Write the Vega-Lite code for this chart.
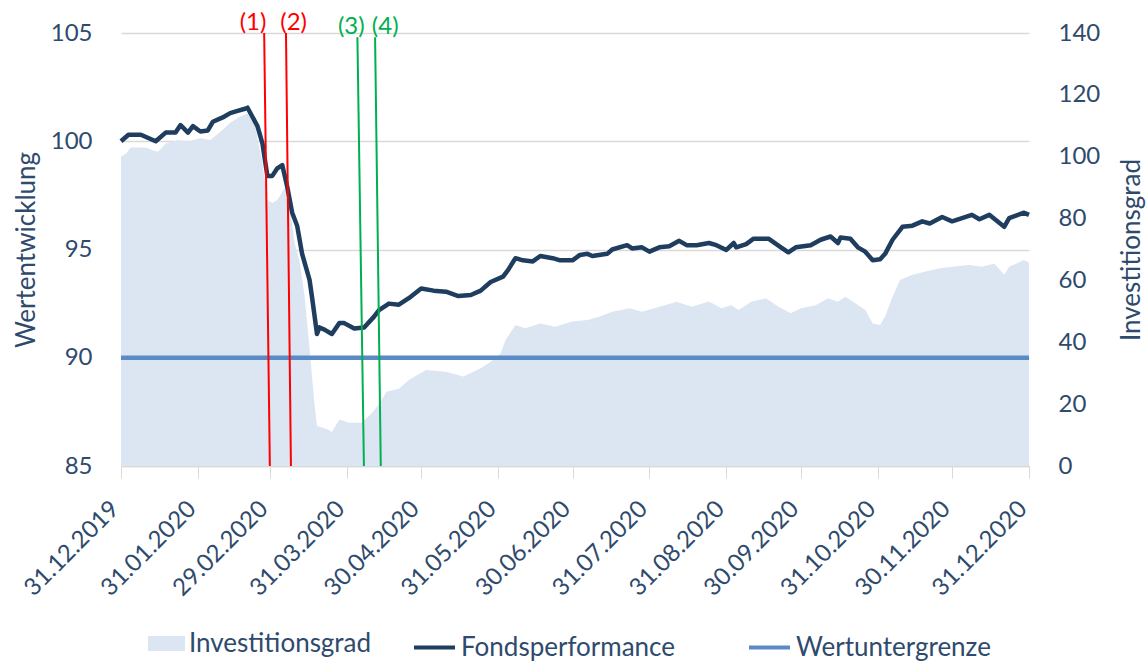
{
  "$schema": "https://vega.github.io/schema/vega-lite/v6.json",
  "width": 908,
  "height": 433,
  "autosize": {"type": "none"},
  "padding": {"left": 121, "top": 33, "right": 118, "bottom": 195},
  "background": "white",
  "config": {
    "font": "Lato",
    "view": {"stroke": null},
    "axis": {"labelFont": "Lato", "titleFont": "Lato", "labelColor": "#2E4A6D", "titleColor": "#2E4A6D", "titleFontWeight": "normal"},
    "axisX": {
      "labelExpr": "utcFormat(datum.value, '%d.%m.%Y')",
      "labelAngle": -45, "labelAlign": "right", "labelBaseline": "middle",
      "labelFontSize": 24, "labelPadding": 27, "labelOffset": -6, "labelOverlap": false, "labelBound": false, "labelFlush": false,
      "domainColor": "#D9D9D9", "domainWidth": 1.5, "tickColor": "#D9D9D9", "tickSize": 12, "grid": false
    },
    "legend": {"labelFont": "Lato", "labelColor": "#2E4A6D", "labelFontSize": 26, "labelLimit": 0, "orient": "none", "direction": "horizontal", "padding": 0, "labelOffset": 4, "title": null}
  },
  "datasets": {
    "perf": [
      {"tag": "2019-12-31", "wert": 100.0}, {"tag": "2020-01-03", "wert": 100.3}, {"tag": "2020-01-08", "wert": 100.3},
      {"tag": "2020-01-14", "wert": 100.0}, {"tag": "2020-01-18", "wert": 100.4}, {"tag": "2020-01-22", "wert": 100.4},
      {"tag": "2020-01-24", "wert": 100.75}, {"tag": "2020-01-27", "wert": 100.4}, {"tag": "2020-01-29", "wert": 100.7},
      {"tag": "2020-02-01", "wert": 100.45}, {"tag": "2020-02-04", "wert": 100.5}, {"tag": "2020-02-06", "wert": 100.9},
      {"tag": "2020-02-10", "wert": 101.1}, {"tag": "2020-02-13", "wert": 101.3}, {"tag": "2020-02-16", "wert": 101.4},
      {"tag": "2020-02-19", "wert": 101.5}, {"tag": "2020-02-20", "wert": 101.55}, {"tag": "2020-02-24", "wert": 100.7},
      {"tag": "2020-02-26", "wert": 99.9}, {"tag": "2020-02-28", "wert": 98.4}, {"tag": "2020-03-01", "wert": 98.4},
      {"tag": "2020-03-03", "wert": 98.75}, {"tag": "2020-03-05", "wert": 98.9}, {"tag": "2020-03-07", "wert": 97.9},
      {"tag": "2020-03-09", "wert": 96.7}, {"tag": "2020-03-11", "wert": 96.1}, {"tag": "2020-03-13", "wert": 94.8},
      {"tag": "2020-03-16", "wert": 93.6}, {"tag": "2020-03-17", "wert": 92.8}, {"tag": "2020-03-19", "wert": 91.1},
      {"tag": "2020-03-20", "wert": 91.4}, {"tag": "2020-03-22", "wert": 91.3}, {"tag": "2020-03-25", "wert": 91.1},
      {"tag": "2020-03-28", "wert": 91.6}, {"tag": "2020-03-30", "wert": 91.6}, {"tag": "2020-04-03", "wert": 91.35},
      {"tag": "2020-04-07", "wert": 91.4}, {"tag": "2020-04-11", "wert": 91.9}, {"tag": "2020-04-13", "wert": 92.2},
      {"tag": "2020-04-17", "wert": 92.5}, {"tag": "2020-04-21", "wert": 92.45}, {"tag": "2020-04-25", "wert": 92.75},
      {"tag": "2020-04-30", "wert": 93.2}, {"tag": "2020-05-05", "wert": 93.1}, {"tag": "2020-05-10", "wert": 93.05},
      {"tag": "2020-05-15", "wert": 92.85}, {"tag": "2020-05-20", "wert": 92.9}, {"tag": "2020-05-24", "wert": 93.1},
      {"tag": "2020-05-28", "wert": 93.5}, {"tag": "2020-06-02", "wert": 93.75}, {"tag": "2020-06-04", "wert": 94.05},
      {"tag": "2020-06-07", "wert": 94.6}, {"tag": "2020-06-10", "wert": 94.5}, {"tag": "2020-06-14", "wert": 94.45},
      {"tag": "2020-06-17", "wert": 94.7}, {"tag": "2020-06-22", "wert": 94.6}, {"tag": "2020-06-25", "wert": 94.5},
      {"tag": "2020-06-30", "wert": 94.5}, {"tag": "2020-07-03", "wert": 94.75}, {"tag": "2020-07-06", "wert": 94.8},
      {"tag": "2020-07-08", "wert": 94.7}, {"tag": "2020-07-14", "wert": 94.8}, {"tag": "2020-07-16", "wert": 95.0},
      {"tag": "2020-07-22", "wert": 95.2}, {"tag": "2020-07-24", "wert": 95.05}, {"tag": "2020-07-28", "wert": 95.1},
      {"tag": "2020-07-31", "wert": 94.9}, {"tag": "2020-08-04", "wert": 95.1}, {"tag": "2020-08-08", "wert": 95.15},
      {"tag": "2020-08-12", "wert": 95.4}, {"tag": "2020-08-15", "wert": 95.2}, {"tag": "2020-08-19", "wert": 95.2},
      {"tag": "2020-08-24", "wert": 95.3}, {"tag": "2020-08-27", "wert": 95.2}, {"tag": "2020-08-31", "wert": 94.98},
      {"tag": "2020-09-03", "wert": 95.3}, {"tag": "2020-09-04", "wert": 95.1}, {"tag": "2020-09-08", "wert": 95.25},
      {"tag": "2020-09-11", "wert": 95.5}, {"tag": "2020-09-17", "wert": 95.5}, {"tag": "2020-09-22", "wert": 95.1},
      {"tag": "2020-09-25", "wert": 94.87}, {"tag": "2020-09-28", "wert": 95.1}, {"tag": "2020-10-04", "wert": 95.2},
      {"tag": "2020-10-08", "wert": 95.45}, {"tag": "2020-10-12", "wert": 95.6}, {"tag": "2020-10-15", "wert": 95.3},
      {"tag": "2020-10-16", "wert": 95.55}, {"tag": "2020-10-20", "wert": 95.5}, {"tag": "2020-10-23", "wert": 95.1},
      {"tag": "2020-10-26", "wert": 94.9}, {"tag": "2020-10-29", "wert": 94.5}, {"tag": "2020-11-01", "wert": 94.55},
      {"tag": "2020-11-03", "wert": 94.8}, {"tag": "2020-11-06", "wert": 95.45}, {"tag": "2020-11-10", "wert": 96.05},
      {"tag": "2020-11-14", "wert": 96.1}, {"tag": "2020-11-18", "wert": 96.3}, {"tag": "2020-11-21", "wert": 96.2},
      {"tag": "2020-11-26", "wert": 96.5}, {"tag": "2020-11-30", "wert": 96.3}, {"tag": "2020-12-04", "wert": 96.45},
      {"tag": "2020-12-08", "wert": 96.6}, {"tag": "2020-12-11", "wert": 96.4}, {"tag": "2020-12-15", "wert": 96.6},
      {"tag": "2020-12-21", "wert": 96.05}, {"tag": "2020-12-23", "wert": 96.45}, {"tag": "2020-12-29", "wert": 96.7},
      {"tag": "2020-12-31", "wert": 96.6}
    ],
    "invest": [
      {"tag": "2019-12-31", "grad": 100}, {"tag": "2020-01-02", "grad": 101}, {"tag": "2020-01-04", "grad": 103},
      {"tag": "2020-01-10", "grad": 103}, {"tag": "2020-01-13", "grad": 102}, {"tag": "2020-01-15", "grad": 101.6},
      {"tag": "2020-01-18", "grad": 104.3}, {"tag": "2020-01-23", "grad": 105.4}, {"tag": "2020-01-27", "grad": 105},
      {"tag": "2020-02-01", "grad": 106}, {"tag": "2020-02-05", "grad": 105.4}, {"tag": "2020-02-09", "grad": 108},
      {"tag": "2020-02-13", "grad": 111}, {"tag": "2020-02-17", "grad": 113}, {"tag": "2020-02-20", "grad": 114},
      {"tag": "2020-02-23", "grad": 110}, {"tag": "2020-02-26", "grad": 98}, {"tag": "2020-02-28", "grad": 86},
      {"tag": "2020-03-01", "grad": 85}, {"tag": "2020-03-03", "grad": 86}, {"tag": "2020-03-06", "grad": 90},
      {"tag": "2020-03-08", "grad": 84}, {"tag": "2020-03-10", "grad": 72}, {"tag": "2020-03-12", "grad": 66},
      {"tag": "2020-03-14", "grad": 55}, {"tag": "2020-03-16", "grad": 38}, {"tag": "2020-03-18", "grad": 20},
      {"tag": "2020-03-19", "grad": 13}, {"tag": "2020-03-20", "grad": 12.7}, {"tag": "2020-03-23", "grad": 12},
      {"tag": "2020-03-25", "grad": 11}, {"tag": "2020-03-28", "grad": 15}, {"tag": "2020-04-01", "grad": 14},
      {"tag": "2020-04-06", "grad": 14}, {"tag": "2020-04-10", "grad": 17}, {"tag": "2020-04-13", "grad": 20},
      {"tag": "2020-04-16", "grad": 24}, {"tag": "2020-04-21", "grad": 25}, {"tag": "2020-04-25", "grad": 27.8},
      {"tag": "2020-05-02", "grad": 31}, {"tag": "2020-05-10", "grad": 30.5}, {"tag": "2020-05-17", "grad": 28.9},
      {"tag": "2020-05-24", "grad": 31.6}, {"tag": "2020-05-28", "grad": 33.7}, {"tag": "2020-06-01", "grad": 36.4},
      {"tag": "2020-06-03", "grad": 40.7}, {"tag": "2020-06-07", "grad": 45.6}, {"tag": "2020-06-11", "grad": 44.5},
      {"tag": "2020-06-17", "grad": 46.1}, {"tag": "2020-06-23", "grad": 45}, {"tag": "2020-06-30", "grad": 46.7},
      {"tag": "2020-07-06", "grad": 47.2}, {"tag": "2020-07-11", "grad": 48.3}, {"tag": "2020-07-16", "grad": 49.9},
      {"tag": "2020-07-23", "grad": 51}, {"tag": "2020-07-28", "grad": 49.9}, {"tag": "2020-08-02", "grad": 51},
      {"tag": "2020-08-11", "grad": 53.1}, {"tag": "2020-08-17", "grad": 51.5}, {"tag": "2020-08-24", "grad": 53.2},
      {"tag": "2020-08-29", "grad": 51}, {"tag": "2020-09-02", "grad": 52}, {"tag": "2020-09-05", "grad": 50.4},
      {"tag": "2020-09-10", "grad": 53.1}, {"tag": "2020-09-16", "grad": 54.2}, {"tag": "2020-09-21", "grad": 51.5},
      {"tag": "2020-09-26", "grad": 49.4}, {"tag": "2020-09-30", "grad": 51}, {"tag": "2020-10-06", "grad": 52},
      {"tag": "2020-10-11", "grad": 54.2}, {"tag": "2020-10-15", "grad": 53.1}, {"tag": "2020-10-18", "grad": 54.7},
      {"tag": "2020-10-22", "grad": 52.6}, {"tag": "2020-10-26", "grad": 50.4}, {"tag": "2020-10-29", "grad": 46.1},
      {"tag": "2020-11-01", "grad": 45.6}, {"tag": "2020-11-03", "grad": 48.3}, {"tag": "2020-11-06", "grad": 54.7},
      {"tag": "2020-11-09", "grad": 60.1}, {"tag": "2020-11-14", "grad": 61.8}, {"tag": "2020-11-19", "grad": 62.8},
      {"tag": "2020-11-25", "grad": 63.9}, {"tag": "2020-11-30", "grad": 64.4}, {"tag": "2020-12-07", "grad": 65},
      {"tag": "2020-12-12", "grad": 64.4}, {"tag": "2020-12-17", "grad": 65.5}, {"tag": "2020-12-21", "grad": 61.8},
      {"tag": "2020-12-23", "grad": 64.4}, {"tag": "2020-12-29", "grad": 66.6}, {"tag": "2020-12-31", "grad": 65.7}
    ],
    "grenze": [{"name": "Wertuntergrenze", "wert": 90}],
    "ereignisse": [
      {"label": "(1)", "gruppe": "A", "oben": "2020-02-26T17:00:00Z", "unten": "2020-02-29T00:00:00Z", "textpos": "2020-02-22T05:00:00Z", "ystart": 105, "yende": 85},
      {"label": "(2)", "gruppe": "A", "oben": "2020-03-06T12:00:00Z", "unten": "2020-03-08T12:00:00Z", "textpos": "2020-03-09T14:00:00Z", "ystart": 105, "yende": 85},
      {"label": "(3)", "gruppe": "B", "oben": "2020-04-04T07:00:00Z", "unten": "2020-04-06T22:00:00Z", "textpos": "2020-04-01T20:00:00Z", "ystart": 104.8, "yende": 85},
      {"label": "(4)", "gruppe": "B", "oben": "2020-04-11T10:00:00Z", "unten": "2020-04-13T17:00:00Z", "textpos": "2020-04-15T12:00:00Z", "ystart": 104.8, "yende": 85}
    ]
  },
  "layer": [
    {
      "data": {"name": "invest"},
      "mark": {"type": "area", "opacity": 1},
      "encoding": {
        "x": {
          "field": "tag", "type": "temporal", "title": null,
          "scale": {"type": "utc", "domain": ["2019-12-31", "2020-12-31"]},
          "axis": {
            "values": [
              {"year": 2019, "month": 12, "date": 31, "utc": true}, {"year": 2020, "month": 1, "date": 31, "utc": true},
              {"year": 2020, "month": 2, "date": 29, "utc": true}, {"year": 2020, "month": 3, "date": 31, "utc": true},
              {"year": 2020, "month": 4, "date": 30, "utc": true}, {"year": 2020, "month": 5, "date": 31, "utc": true},
              {"year": 2020, "month": 6, "date": 30, "utc": true}, {"year": 2020, "month": 7, "date": 31, "utc": true},
              {"year": 2020, "month": 8, "date": 31, "utc": true}, {"year": 2020, "month": 9, "date": 30, "utc": true},
              {"year": 2020, "month": 10, "date": 31, "utc": true}, {"year": 2020, "month": 11, "date": 30, "utc": true},
              {"year": 2020, "month": 12, "date": 31, "utc": true}
            ],
            "labelExpr": "utcFormat(datum.value, '%d.%m.%Y')"
          }
        },
        "y": {
          "field": "grad", "type": "quantitative",
          "scale": {"domain": [0, 140], "nice": false, "zero": true},
          "axis": {
            "orient": "right", "values": [0, 20, 40, 60, 80, 100, 120, 140], "title": "Investitionsgrad",
            "grid": false, "domain": false, "ticks": false, "labelPadding": 29, "labelFontSize": 24,
            "titleFontSize": 26, "titleAngle": 270, "titleX": 102, "titleY": 216.5, "titleAlign": "center", "titleBaseline": "middle"
          }
        },
        "color": {
          "datum": "Investitionsgrad",
          "scale": {"range": ["#DCE6F2"]},
          "legend": {"symbolType": "M-1,-0.4H1V0.4H-1Z", "symbolSize": 1369, "symbolStrokeWidth": 0, "symbolOpacity": 1, "legendX": 27, "legendY": 592}
        }
      }
    },
    {
      "data": {"name": "perf"},
      "mark": {"type": "line", "strokeWidth": 4.5, "strokeJoin": "round"},
      "encoding": {
        "x": {"field": "tag", "type": "temporal", "title": null, "axis": {"labelExpr": "utcFormat(datum.value, '%d.%m.%Y')"}},
        "y": {
          "field": "wert", "type": "quantitative",
          "scale": {"domain": [85, 105], "nice": false, "zero": false},
          "axis": {
            "orient": "left", "values": [85, 90, 95, 100, 105], "title": "Wertentwicklung",
            "grid": true, "gridColor": "#D9D9D9", "gridWidth": 1.5, "domain": false, "ticks": false,
            "labelPadding": 29, "labelFontSize": 24,
            "titleFontSize": 26, "titleAngle": 270, "titleX": -95, "titleY": 216.5, "titleAlign": "center", "titleBaseline": "middle"
          }
        },
        "color": {
          "datum": "Fondsperformance",
          "scale": {"range": ["#1F3D5E"]},
          "legend": {"symbolType": "stroke", "symbolSize": 1681, "symbolStrokeWidth": 4, "legendX": 291, "legendY": 592}
        }
      }
    },
    {
      "data": {"name": "grenze"},
      "mark": {"type": "rule", "strokeWidth": 4.5},
      "encoding": {
        "y": {"field": "wert", "type": "quantitative", "scale": {"domain": [85, 105], "nice": false, "zero": false}, "axis": null},
        "color": {
          "field": "name", "type": "nominal",
          "scale": {"range": ["#5A8BC6"]},
          "legend": {"symbolType": "stroke", "symbolSize": 1681, "symbolStrokeWidth": 4, "legendX": 626, "legendY": 592}
        }
      }
    },
    {
      "data": {"name": "ereignisse"},
      "mark": {"type": "rule", "strokeWidth": 2},
      "encoding": {
        "x": {"field": "oben", "type": "temporal", "title": null, "axis": {"labelExpr": "utcFormat(datum.value, '%d.%m.%Y')"}},
        "x2": {"field": "unten"},
        "y": {"field": "ystart", "type": "quantitative", "scale": {"domain": [85, 105], "nice": false, "zero": false}, "axis": null},
        "y2": {"field": "yende"},
        "color": {"field": "gruppe", "type": "nominal", "scale": {"domain": ["A", "B"], "range": ["#FF0000", "#00B050"]}, "legend": null}
      }
    },
    {
      "data": {"name": "ereignisse"},
      "mark": {"type": "text", "fontSize": 24, "baseline": "alphabetic", "align": "center", "dy": -3, "font": "Lato"},
      "encoding": {
        "x": {"field": "textpos", "type": "temporal", "title": null, "axis": {"labelExpr": "utcFormat(datum.value, '%d.%m.%Y')"}},
        "y": {"field": "ystart", "type": "quantitative", "scale": {"domain": [85, 105], "nice": false, "zero": false}, "axis": null},
        "text": {"field": "label"},
        "color": {"field": "gruppe", "type": "nominal", "scale": {"domain": ["A", "B"], "range": ["#FF0000", "#00B050"]}, "legend": null}
      }
    }
  ],
  "resolve": {"scale": {"y": "independent", "color": "independent"}}
}
